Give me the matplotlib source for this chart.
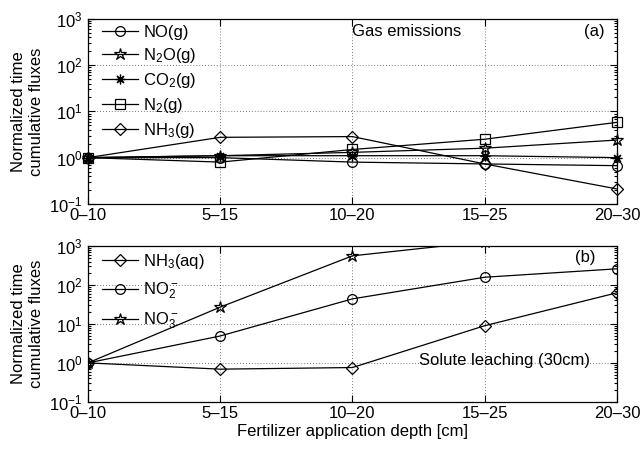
import matplotlib
matplotlib.use("Agg")
import matplotlib.pyplot as plt
from matplotlib.ticker import LogLocator, LogFormatterMathtext, NullFormatter, FixedLocator

plt.rcParams['font.family'] = ['Liberation Sans', 'DejaVu Sans']
plt.rcParams['mathtext.fontset'] = 'custom'
plt.rcParams['mathtext.rm'] = 'Liberation Sans'
plt.rcParams['mathtext.it'] = 'Liberation Sans:italic'
plt.rcParams['font.size'] = 12

depths = ["0\u201310", "5\u201315", "10\u201320", "15\u201325", "20\u201330"]

# Panel (a) gas emissions
no_g = [1.0, 1.0, 0.8, 0.73, 0.67]
n2o_g = [1.0, 1.1, 1.3, 1.6, 2.4]
co2_g = [1.0, 1.1, 1.1, 1.1, 1.0]
n2_g = [1.0, 0.8, 1.5, 2.5, 5.8]
nh3_g = [1.0, 2.75, 2.85, 0.73, 0.21]

# Panel (b) solute leaching
nh3_aq = [1.0, 0.69, 0.76, 9.0, 63.0]
no2_aq = [1.0, 4.9, 44.0, 158.0, 260.0]
no3_aq = [1.0, 27.0, 560.0, 1300.0, 2000.0]

fig = plt.figure(figsize=(6.42, 4.51), dpi=100)
ax1 = fig.add_axes([0.137, 0.548, 0.824, 0.410])
ax2 = fig.add_axes([0.137, 0.109, 0.824, 0.3455])

x = list(range(len(depths)))
ast = (8, 2, 0)
kw = dict(color='black', lw=0.9, ms=7, mfc='none', mec='black', mew=0.9, clip_on=False)

ax1.plot(x, no_g, marker='o', label='NO(g)', **kw)
ax1.plot(x, n2o_g, marker='*', label='N$_2$O(g)', **dict(kw, ms=9))
ax1.plot(x, co2_g, marker=ast, label='CO$_2$(g)', **kw)
ax1.plot(x, n2_g, marker='s', label='N$_2$(g)', **dict(kw, ms=6.5))
ax1.plot(x, nh3_g, marker='D', label='NH$_3$(g)', **dict(kw, ms=6.5))

kw2 = dict(kw, clip_on=True)
ax2.plot(x, nh3_aq, marker='D', label='NH$_3$(aq)', **dict(kw2, ms=6.5))
ax2.plot(x, no2_aq, marker='o', label='NO$_2^-$', **kw2)
ax2.plot(x, no3_aq, marker='*', label='NO$_3^-$', **dict(kw2, ms=9))

for ax in (ax1, ax2):
    ax.set_yscale('log')
    ax.set_ylim(0.1, 1000)
    ax.set_xlim(0, 4)
    ax.xaxis.set_major_locator(FixedLocator(x))
    ax.set_xticklabels(depths)
    ax.yaxis.set_major_locator(LogLocator(base=10, numticks=10))
    ax.yaxis.set_major_formatter(LogFormatterMathtext())
    ax.yaxis.set_minor_locator(LogLocator(base=10, subs=range(2, 10), numticks=20))
    ax.yaxis.set_minor_formatter(NullFormatter())
    ax.tick_params(which='both', direction='in', top=True, right=True, width=0.8)
    ax.tick_params(which='major', length=5)
    ax.tick_params(which='minor', length=2.5)
    ax.tick_params(axis='x', pad=3)
    ax.tick_params(axis='y', pad=4)
    ax.grid(True, which='major', linestyle=(0, (1, 2.5)), color='black', lw=0.6, alpha=0.7)
    for s in ax.spines.values():
        s.set_linewidth(0.9)
    ax.set_ylabel('Normalized time\ncumulative fluxes', labelpad=4)
    ax.set_axisbelow(True)

ax1.legend(loc='upper left', frameon=False, handlelength=2.2, labelspacing=0.36,
           borderaxespad=0.0, handletextpad=0.3, borderpad=0.35,
           bbox_to_anchor=(0.015, 1.0))
ax2.legend(loc='upper left', frameon=False, handlelength=2.2, labelspacing=0.58,
           borderaxespad=0.0, handletextpad=0.3, borderpad=0.35,
           bbox_to_anchor=(0.015, 1.0))

ax1.text(2.0, 0.93, 'Gas emissions', transform=ax1.get_xaxis_transform(), ha='left', va='center')
ax1.text(3.75, 0.93, '(a)', transform=ax1.get_xaxis_transform(), ha='left', va='center')
ax2.text(3.68, 0.925, '(b)', transform=ax2.get_xaxis_transform(), ha='left', va='center')
ax2.text(2.5, 0.265, 'Solute leaching (30cm)', transform=ax2.get_xaxis_transform(), ha='left', va='center')

ax2.set_xlabel('Fertilizer application depth [cm]', labelpad=2)

fig.savefig('out.png', dpi=100)
